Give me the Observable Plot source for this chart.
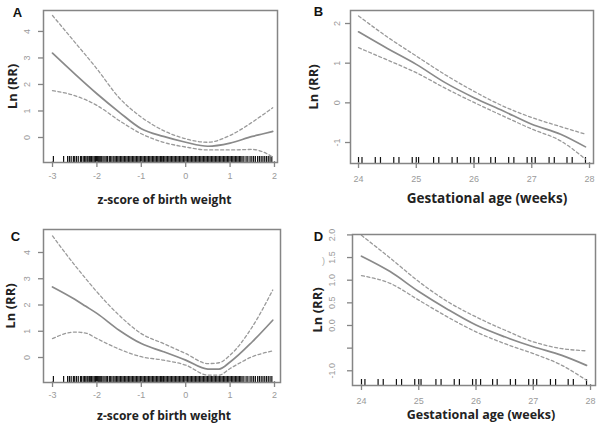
<!DOCTYPE html>
<html><head><meta charset="utf-8">
<script src="https://cdn.jsdelivr.net/npm/d3@7"></script>
<script src="https://cdn.jsdelivr.net/npm/@observablehq/plot@0.6"></script>
<style>
body{margin:0;background:#fff}
#wrap{position:relative;width:600px;height:427px;overflow:hidden;background:#fff}
#wrap > svg{position:absolute}
</style></head><body><div id="wrap"></div>
<script>
// ---- Panel A: z-score of birth weight ----
const aX = [-3, -2.5, -2, -1.5, -1, -0.5, 0, 0.5, 1, 1.5, 1.75, 1.96];
const aFit = [3.18, 2.40, 1.65, 0.96, 0.33, 0.04, -0.18, -0.33, -0.21, 0.04, 0.14, 0.23];
const aUpper = [4.6, 3.6, 2.59, 1.5, 0.77, 0.26, -0.05, -0.18, 0.08, 0.58, 0.87, 1.12];
const aLower = [1.77, 1.58, 1.21, 0.64, 0.14, -0.18, -0.36, -0.47, -0.47, -0.45, -0.55, -0.74];
// ---- Panel B: gestational age ----
const bX = [24, 24.5, 25, 25.5, 26, 26.5, 27, 27.5, 27.93];
const bFit = [1.79, 1.37, 0.97, 0.51, 0.13, -0.2, -0.54, -0.79, -1.11];
const bUpper = [2.19, 1.66, 1.18, 0.71, 0.29, -0.08, -0.37, -0.6, -0.79];
const bLower = [1.39, 1.08, 0.76, 0.37, 0.01, -0.33, -0.66, -0.96, -1.42];
// ---- Panel C: z-score of birth weight ----
const cX = [-3, -2.5, -2.25, -2, -1.5, -1, -0.5, 0, 0.5, 0.75, 1, 1.5, 1.96];
const cFit = [2.69, 2.22, 1.95, 1.68, 1.04, 0.53, 0.22, -0.1, -0.44, -0.44, -0.17, 0.6, 1.42];
const cUpper = [4.63, 3.52, 3.0, 2.5, 1.61, 0.91, 0.53, 0.15, -0.23, -0.2, 0.09, 1.17, 2.57];
const cLower = [0.72, 0.97, 0.93, 0.72, 0.32, 0.03, -0.1, -0.29, -0.67, -0.67, -0.42, 0.03, 0.25];
// ---- Panel D: gestational age ----
const dX = [24, 24.5, 25, 25.5, 26, 26.5, 27, 27.5, 27.93];
const dFit = [1.53, 1.19, 0.75, 0.36, 0.01, -0.25, -0.47, -0.66, -0.88];
const dUpper = [1.99, 1.49, 0.97, 0.53, 0.19, -0.1, -0.36, -0.51, -0.56];
const dLower = [1.1, 0.93, 0.56, 0.19, -0.14, -0.4, -0.62, -0.88, -1.21];

// rug values
const zRug = [-2.98, -2.75, -2.66, -2.62, -2.58, -2.53, -2.5, -2.46, -2.42, -2.37, -2.35, -2.31, -2.28, -2.25, -2.22, -2.2, -2.17, -2.14, -2.12, -2.09, -2.06, -2.03, -2.01, -1.99, -1.97, -1.95, -1.93, -1.91, -1.89, -1.86, -1.82, -1.79, -1.76, -1.72, -1.69, -1.66, -1.62, -1.59, -1.56, -1.53, -1.5, -1.47, -1.44, -1.41, -1.38, -1.35, -1.32, -1.29, -1.26, -1.23, -1.2, -1.17, -1.14, -1.11, -1.08, -1.05, -1.02, -0.99, -0.96, -0.93, -0.9, -0.87, -0.84, -0.81, -0.78, -0.75, -0.72, -0.69, -0.66, -0.63, -0.6, -0.57, -0.55, -0.53, -0.5, -0.47, -0.44, -0.41, -0.38, -0.35, -0.32, -0.29, -0.26, -0.23, -0.2, -0.17, -0.14, -0.11, -0.08, -0.05, -0.02, 0.01, 0.04, 0.07, 0.1, 0.13, 0.16, 0.19, 0.22, 0.25, 0.28, 0.31, 0.34, 0.37, 0.4, 0.43, 0.46, 0.49, 0.52, 0.55, 0.58, 0.61, 0.64, 0.67, 0.7, 0.73, 0.76, 0.79, 0.82, 0.85, 0.88, 0.91, 0.94, 0.97, 1.0, 1.03, 1.06, 1.09, 1.12, 1.15, 1.18, 1.21, 1.24, 1.27, 1.31, 1.36, 1.4, 1.45, 1.49, 1.53, 1.57, 1.62, 1.66, 1.7, 1.74, 1.78, 1.82, 1.86, 1.9, 1.94];
const gaRug = [24, 24.06, 24.29, 24.38, 24.61, 24.70, 24.93, 25, 25.04, 25.30, 25.39, 25.62, 25.71, 25.94, 26, 26.08, 26.29, 26.37, 26.60, 26.69, 26.92, 27, 27.06, 27.30, 27.39, 27.61, 27.70, 27.93];

// ticks and labels
const zTicks = [-3, -2, -1, 0, 1, 2];
const zTickLabels = ["-3", "-2", "-1", "0", "1", "2"];
const gaTicks = [24, 25, 26, 27, 28];
const gaTickLabels = ["24", "25", "26", "27", "28"];
const lnTicksAC = [0, 1, 2, 3, 4];
const lnLabelsAC = ["0", "1", "2", "3", "4"];
const lnTicksB = [-1, 0, 1, 2];
const lnLabelsB = ["-1", "0", "1", "2"];
const lnTicksD = [-1, -0.5, 0, 0.5, 1, 1.5, 2];
const lnLabelsD = ["-1.0", "", "0.0", "0.5", "1.0", "1.5", "2.0"];

const yTitle = "Ln (RR)";
const zTitle = "z-score of birth weight";
const gaTitle = "Gestational age (weeks)";

const GRAY = "#9a9a9a";
const BOX = "#858585";
const LINE = "#8a8a8a";
const SANS = "Liberation Sans, Arial, sans-serif";
const TITLE = "Open Sans, sans-serif";

function panel(o) {
  const fh = o.h - o.mt - o.mb;
  const fw = o.w - o.ml - o.mr;
  const pts = (xs, ys) => xs.map((x, i) => ({x, y: ys[i]}));
  const marks = [
    Plot.ruleX(o.rug, {x: d => d, insetTop: fh - 6, stroke: "#111", strokeWidth: 1.2}),
    Plot.line(pts(o.x, o.upper), {x: "x", y: "y", stroke: GRAY, strokeWidth: 1.3, strokeDasharray: "3,2.5", curve: "monotone-x"}),
    Plot.line(pts(o.x, o.lower), {x: "x", y: "y", stroke: GRAY, strokeWidth: 1.3, strokeDasharray: "3,2.5", curve: "monotone-x"}),
    Plot.line(pts(o.x, o.fit), {x: "x", y: "y", stroke: LINE, strokeWidth: 1.7, curve: "monotone-x"}),
    Plot.ruleX(o.xt, {x: d => d, insetTop: fh - 1, insetBottom: -5, stroke: BOX, strokeWidth: 1.3}),
    Plot.ruleY(o.yt, {y: d => d, insetRight: fw - 1, insetLeft: -5, stroke: BOX, strokeWidth: 1.3}),
    Plot.text(o.xt, {x: d => d, text: o.xl, frameAnchor: "bottom", textAnchor: "middle", dy: o.xlDy, fill: GRAY, fontSize: 9, fontFamily: SANS}),
    Plot.text(o.yt, {y: d => d, text: o.yl, frameAnchor: "left", textAnchor: "middle", dx: o.ylDx, rotate: -90, fill: GRAY, fontSize: 9, fontFamily: SANS}),
    Plot.frame({stroke: BOX, strokeWidth: 1.5}),
    Plot.text([o.xTitle], {frameAnchor: "bottom", textAnchor: "middle", dx: o.xtDx, dy: o.xtDy, fill: "#222", fontSize: o.xtSize, fontWeight: "bold", fontFamily: TITLE}),
    Plot.text([yTitle], {frameAnchor: "left", textAnchor: "middle", dx: o.ytDx, rotate: -90, fill: "#222", fontSize: 13, fontWeight: "bold", fontFamily: TITLE}),
    Plot.text([o.letter], {frameAnchor: "top-left", textAnchor: "middle", dx: o.lDx, dy: o.lDy, fill: "#111", fontSize: 13, fontWeight: "bold", fontFamily: SANS})
  ];
  if (o.extra) marks.push(Plot.text([o.extra], {frameAnchor: "top-left", textAnchor: "middle", dx: o.eDx, dy: o.eDy, fill: "#aaa", fontSize: 9, fontFamily: SANS}));
  const svg = Plot.plot({
    width: o.w, height: o.h,
    marginLeft: o.ml, marginRight: o.mr, marginTop: o.mt, marginBottom: o.mb,
    x: {domain: o.xd, axis: null}, y: {domain: o.yd, axis: null},
    marks
  });
  svg.style.left = o.left + "px";
  svg.style.top = o.top + "px";
  document.getElementById("wrap").appendChild(svg);
}

panel({letter: "A", left: 0, top: 0, w: 300, h: 213, ml: 43, mr: 23, mt: 10, mb: 51,
  xd: [-3.203, 2.068], yd: [-0.943, 4.79], x: aX, fit: aFit, upper: aUpper, lower: aLower, rug: zRug,
  xt: zTicks, xl: zTickLabels, yt: lnTicksAC, yl: lnLabelsAC,
  xlDy: 16, ylDx: -16, xTitle: zTitle, xtDx: 4, xtDy: 41, xtSize: 12, ytDx: -31, lDx: -26, lDy: -3});

panel({letter: "B", left: 300, top: 0, w: 300, h: 213, ml: 50, mr: 7, mt: 10, mb: 50,
  xd: [23.861, 28.069], yd: [-1.529, 2.328], x: bX, fit: bFit, upper: bUpper, lower: bLower, rug: gaRug,
  xt: gaTicks, xl: gaTickLabels, yt: lnTicksB, yl: lnLabelsB,
  xlDy: 18, ylDx: -13, xTitle: gaTitle, xtDx: 15, xtDy: 39, xtSize: 13.5, ytDx: -37, lDx: -32, lDy: -4});

panel({letter: "C", left: 0, top: 213, w: 300, h: 214, ml: 43, mr: 20, mt: 16, mb: 45,
  xd: [-3.203, 2.135], yd: [-0.952, 4.876], x: cX, fit: cFit, upper: cUpper, lower: cLower, rug: zRug,
  xt: zTicks, xl: zTickLabels, yt: lnTicksAC, yl: lnLabelsAC,
  xlDy: 15, ylDx: -16, xTitle: zTitle, xtDx: 2, xtDy: 37, xtSize: 12, ytDx: -33, lDx: -28, lDy: 2});

panel({letter: "D", left: 300, top: 213, w: 300, h: 214, ml: 52, mr: 5, mt: 21, mb: 42,
  xd: [23.843, 28.087], yd: [-1.325, 2.009], x: dX, fit: dFit, upper: dUpper, lower: dLower, rug: gaRug,
  xt: gaTicks, xl: gaTickLabels, yt: lnTicksD, yl: lnLabelsD,
  xlDy: 18, ylDx: -20, xTitle: gaTitle, xtDx: 7, xtDy: 33, xtSize: 12.5, ytDx: -35, lDx: -34, lDy: -3,
  extra: ")", eDx: -29, eDy: 23});
</script></body></html>
